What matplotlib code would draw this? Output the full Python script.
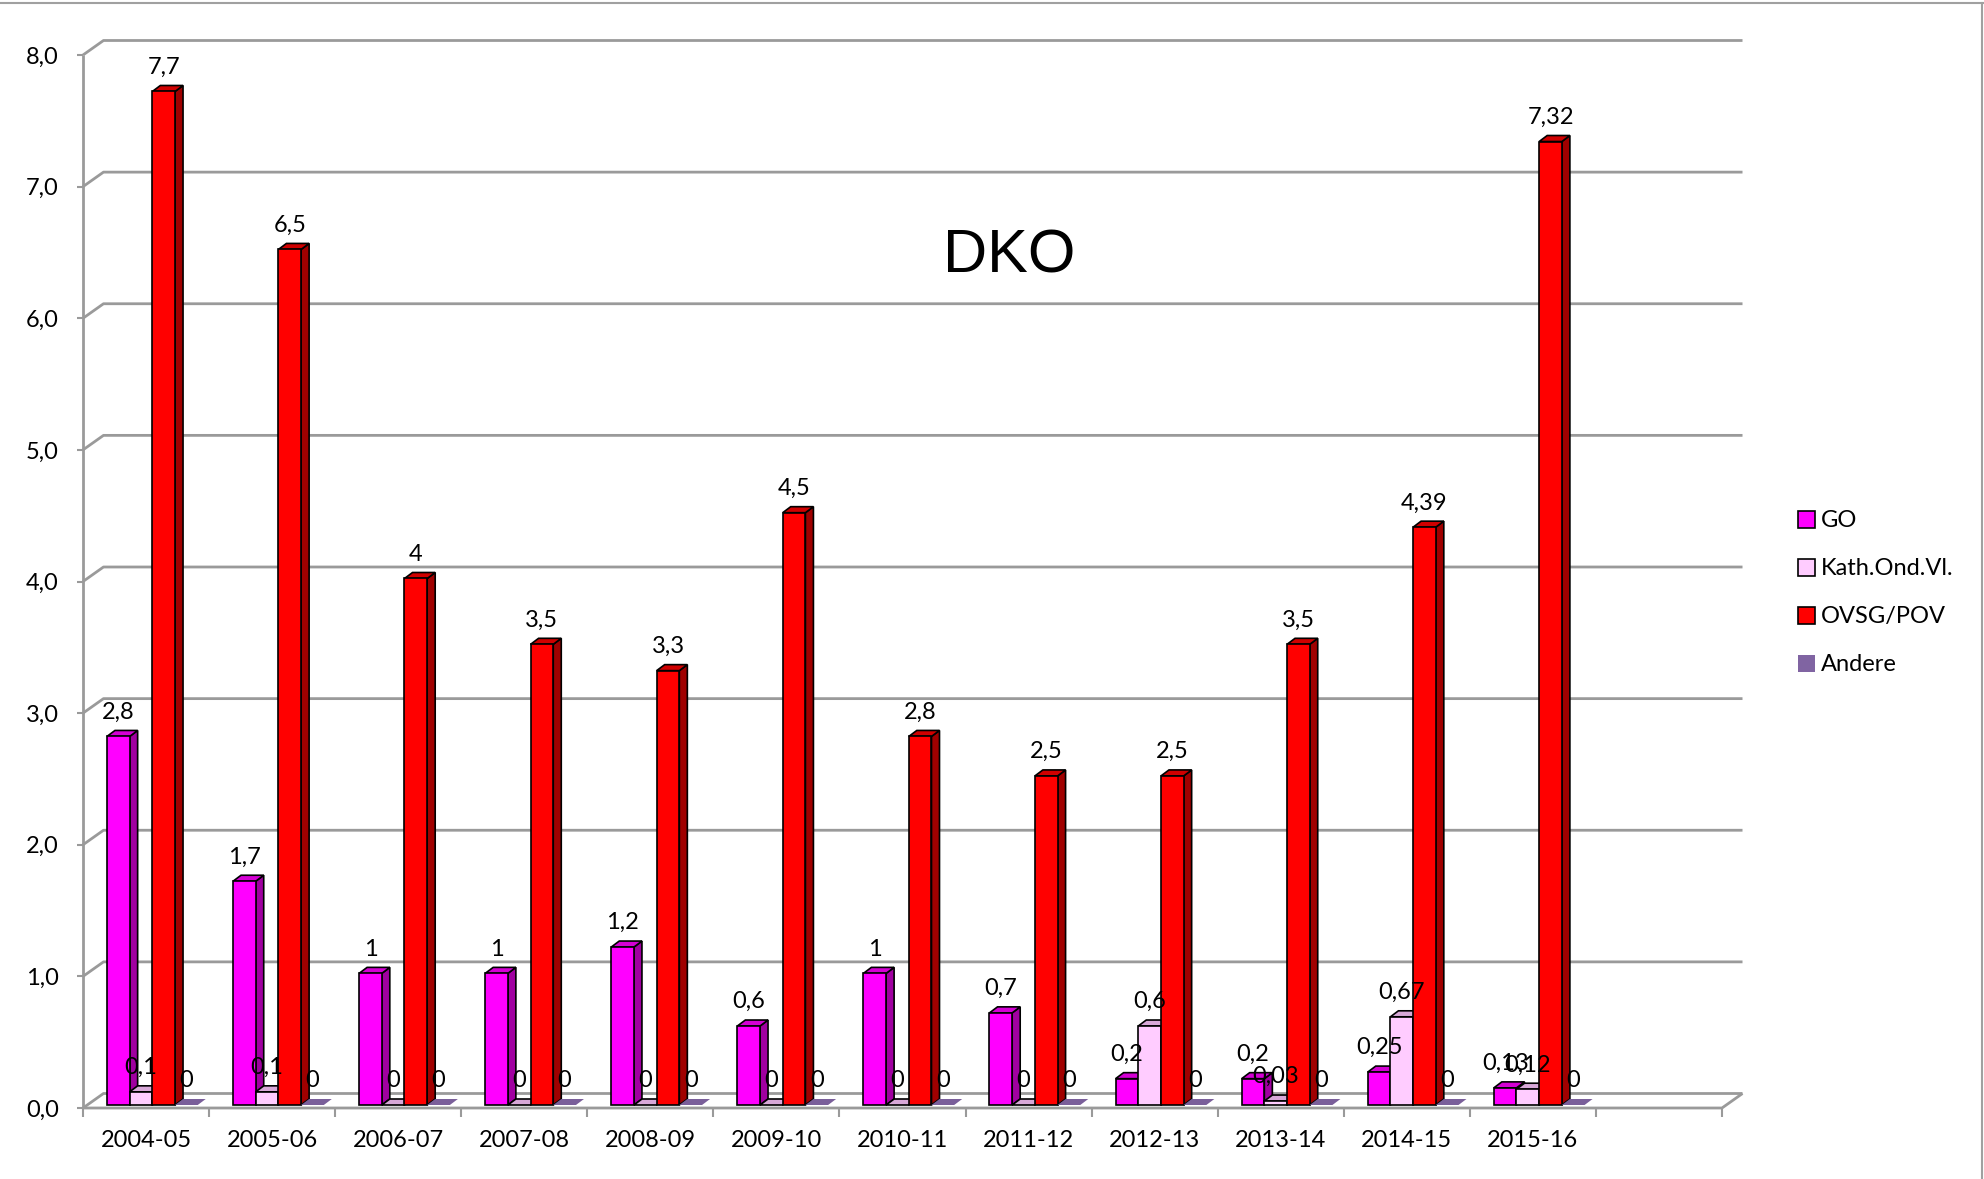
import matplotlib.pyplot as plt
from matplotlib.patches import Polygon, Rectangle
from matplotlib.lines import Line2D

# data
years = ["2004-05", "2005-06", "2006-07", "2007-08", "2008-09", "2009-10",
         "2010-11", "2011-12", "2012-13", "2013-14", "2014-15", "2015-16"]
go = [2.8, 1.7, 1, 1, 1.2, 0.6, 1, 0.7, 0.2, 0.2, 0.25, 0.13]
kath = [0.1, 0.1, 0, 0, 0, 0, 0, 0, 0.6, 0.03, 0.67, 0.12]
ovsg = [7.7, 6.5, 4, 3.5, 3.3, 4.5, 2.8, 2.5, 2.5, 3.5, 4.39, 7.32]
andere = [0, 0, 0, 0, 0, 0, 0, 0, 0, 0, 0, 0]
names = ["GO", "Kath.Ond.Vl.", "OVSG/POV", "Andere"]
yticks = [0, 1, 2, 3, 4, 5, 6, 7, 8]

# front, side, top colours per series
styles = [
    ("#ff00ff", "#a000a0", "#d400d4", "black"),
    ("#ffccff", "#c8a0c8", "#d8a8d8", "black"),
    ("#ff0000", "#a00000", "#d00000", "black"),
    ("#8064a2", "#8064a2", "#7a5f9a", "none"),
]

plt.rcParams['font.family'] = ['Lato', 'DejaVu Sans']
FS = 17

W, H = 1984, 1179
fig = plt.figure(figsize=(W / 100, H / 100), dpi=100)
ax = fig.add_axes([83 / W, 1 - 1108 / H, 1639 / W, 1053 / H])
n_slots = len(years) + 1
ax.set_xlim(0, n_slots)
ax.set_ylim(0, 8)
for s in ax.spines.values():
    s.set_visible(False)

# depth of the walls / bars in data units
DX, DY = 20.5 / 126.1, 14.5 / 131.6
BDX, BDY = 8 / 126.1, 6 / 131.6
BASE = 3 / 131.6
BW = 0.18
OFF = 0.19

gray = "#9a9a9a"
grid = dict(color=gray, lw=2.0, solid_capstyle="butt", clip_on=False, zorder=1)
for v in yticks:
    ax.plot([0, DX, n_slots + DX], [v, v + DY, v + DY], **grid)
ax.plot([0, 0], [0, 8], **grid)
ax.plot([0, n_slots, n_slots + DX], [0, 0, DY], **grid)

ax.set_yticks(yticks)
ax.set_yticklabels([f"{v},0" for v in yticks])
ax.tick_params(axis="y", length=4.3, width=1.5, color=gray, pad=13, labelsize=FS)
ax.set_xticks(range(n_slots + 1))
ax.set_xticklabels([])
ax.set_xticks([i + 0.5 for i in range(len(years))], minor=True)
ax.set_xticklabels(years, minor=True)
ax.tick_params(axis="x", which="major", length=6.5, width=1.5, color=gray)
ax.tick_params(axis="x", which="minor", length=0, pad=16, labelsize=FS)


def fmt(v):
    return f"{v:g}".replace(".", ",")


series = [go, kath, ovsg, andere]
for i in range(len(years)):
    for k, vals in enumerate(series):
        h = vals[i]
        front, side, top, edge = styles[k]
        x0 = i + OFF + k * BW
        x1 = x0 + BW
        y0, y1 = BASE, BASE + h
        lw = 1.2 if edge != "none" else 0
        if h > 0:
            ax.add_patch(Polygon([(x1, y0), (x1 + BDX, y0 + BDY), (x1 + BDX, y1 + BDY), (x1, y1)],
                                 closed=True, fc=side, ec=edge, lw=lw, clip_on=False, zorder=3))
        ax.add_patch(Polygon([(x0, y1), (x1, y1), (x1 + BDX, y1 + BDY), (x0 + BDX, y1 + BDY)],
                             closed=True, fc=top, ec=edge, lw=lw, clip_on=False, zorder=3))
        if h > 0:
            ax.bar(x0, h, width=BW, bottom=y0, align="edge", color=front,
                   edgecolor=edge, linewidth=lw, clip_on=False, zorder=3)
        ax.text(x0 + BW / 2, y1 + 0.135, fmt(h), ha="center", va="baseline",
                fontsize=FS, zorder=10)

fig.text(1009 / W, 1 - 272 / H, "DKO", ha="center", va="baseline",
         fontsize=44, family="Liberation Sans")

# legend
for k, name in enumerate(names):
    yc = 519 + 48 * k
    front, side, top, edge = styles[k]
    fig.add_artist(Rectangle((1798 / W, 1 - (yc + 8.5) / H), 17 / W, 17 / H,
                             transform=fig.transFigure, fc=front,
                             ec=edge, lw=1.2 if edge != "none" else 0))
    fig.text(1821 / W, 1 - (yc + 8) / H, name, va="baseline", fontsize=FS)

# chart frame (top and right visible)
fig.add_artist(Line2D([0, 1], [1 - 3 / H, 1 - 3 / H], transform=fig.transFigure, color="#a0a0a0", lw=1.5))
fig.add_artist(Line2D([1 - 2 / W, 1 - 2 / W], [0, 1 - 3 / H], transform=fig.transFigure, color="#a0a0a0", lw=1.5))

fig.savefig("out.png", dpi=100)
